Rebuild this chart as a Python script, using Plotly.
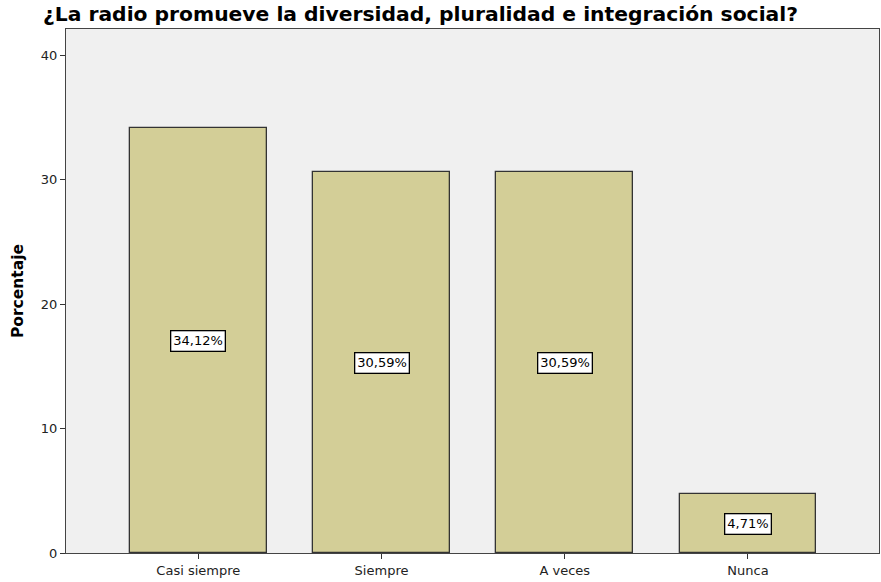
import plotly.graph_objects as go

categories = ["Casi siempre", "Siempre", "A veces", "Nunca"]
values = [34.12, 30.59, 30.59, 4.71]
labels = ["34,12%", "30,59%", "30,59%", "4,71%"]
y_ticks = [0, 10, 20, 30, 40]

xpos = list(range(len(categories)))
FONT = "DejaVu Sans, Liberation Sans, Arial, sans-serif"

fig = go.Figure()
fig.add_trace(go.Bar(
    x=xpos, y=values, width=0.747,
    marker=dict(color="#D3CE97", line=dict(color="#333333", width=1.3)),
    hoverinfo="skip",
))

for xi, v, lab in zip(xpos, values, labels):
    fig.add_annotation(
        x=xi, y=v / 2, text=lab, showarrow=False,
        font=dict(family=FONT, size=13, color="#000000"),
        bgcolor="#FFFFFF", bordercolor="#000000", borderwidth=1.3, borderpad=2,
    )

fig.update_layout(
    width=881, height=582,
    margin=dict(l=66, r=2, t=29, b=29),
    paper_bgcolor="#FFFFFF", plot_bgcolor="#F0F0F0",
    showlegend=False, bargap=0,
    title=dict(
        text="<b>¿La radio promueve la diversidad, pluralidad e integración social?</b>",
        x=43 / 881, xanchor="left", y=1 - 14 / 582, yanchor="middle",
        font=dict(family=FONT, size=20.3, color="#000000"),
    ),
    font=dict(family=FONT, size=13, color="#222222"),
)

fig.update_xaxes(
    range=[-0.722, 3.715], tickmode="array", tickvals=xpos, ticktext=categories,
    ticks="outside", ticklen=5, tickcolor="#333333", tickwidth=1.3,
    showline=True, linecolor="#444444", linewidth=1.3, mirror=True,
    showgrid=False, zeroline=False, tickfont=dict(family=FONT, size=13, color="#222222"),
)
fig.update_yaxes(
    range=[0, 42.1], tickmode="array", tickvals=y_ticks,
    ticks="outside", ticklen=5, tickcolor="#333333", tickwidth=1.3,
    showline=True, linecolor="#444444", linewidth=1.3, mirror=True,
    showgrid=False, zeroline=False, tickfont=dict(family=FONT, size=13, color="#222222"),
    title=dict(text="<b>Porcentaje</b>", font=dict(family=FONT, size=15.5, color="#000000"), standoff=13),
)

fig.write_html("out.html", config={"displayModeBar": False},
               post_script="document.body.style.margin='0px';")
